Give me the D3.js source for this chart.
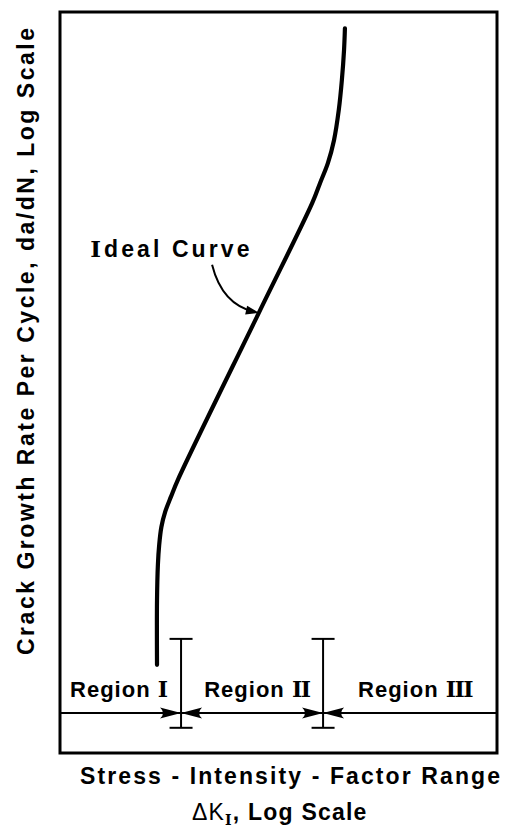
<!DOCTYPE html>
<html>
<head>
<meta charset="utf-8">
<script src="https://cdn.jsdelivr.net/npm/d3@7/dist/d3.min.js"></script>
<style>
  html, body { margin: 0; padding: 0; background: #fff; }
  svg { display: block; }
  text { fill: #000; font-family: "Liberation Sans", Arial, sans-serif; font-weight: bold; }
</style>
</head>
<body>
<svg id="chart" width="505" height="827"></svg>
<script>
// ---- Data (schematic units: log ΔK and log da/dN, 0–100) ----
const curveDK   = [22.2, 22.2, 22.4, 22.7, 23.2, 24.1, 25.4, 27.0, 45.5, 57.7, 59.5, 61.3, 62.7, 63.8, 64.5, 65.0, 65.2];
const curveRate = [11.9, 20.6, 25.4, 28.1, 30.5, 32.6, 34.6, 36.9, 59.4, 74.2, 76.9, 79.6, 82.7, 86.8, 90.8, 94.9, 97.8];
const regionBounds = [27.7, 60.2];
const regionNames = ["Region", "Region", "Region"];
const regionNumerals = ["I", "II", "III"];
const regionLabelX = [2.3, 33.0, 68.2];
const regionLabelY = 7.6;
const barTop = 15.4, barBottom = 3.4, arrowLineY = 5.4;
const annotationText = ["I", "deal Curve"];
const annotationTextPos = [6.9, 67.0];
const annotationStart = [34.8, 65.9];
const annotationCtrl = [37.1, 60.5];
const annotationEnd = [45.5, 59.4];
const yTitle = "Crack Growth Rate Per Cycle, da/dN, Log Scale";
const xTitle1 = "Stress - Intensity - Factor Range";
const xTitle2 = ["ΔK", "I", ", Log Scale"];

const svg = d3.select("#chart");
const x = d3.scaleLinear().domain([0, 100]).range([60, 497]);
const y = d3.scaleLinear().domain([0, 100]).range([753, 12]);

// Frame
svg.append("rect")
  .attr("x", x(0)).attr("y", y(100))
  .attr("width", x(100) - x(0)).attr("height", y(0) - y(100))
  .attr("fill", "none").attr("stroke", "#000").attr("stroke-width", 3);

// Ideal curve
const pts = curveDK.map((d, i) => [d, curveRate[i]]);
svg.append("path")
  .datum(pts)
  .attr("d", d3.line().x(d => x(d[0])).y(d => y(d[1])).curve(d3.curveCatmullRom.alpha(0.5)))
  .attr("fill", "none").attr("stroke", "#000").attr("stroke-width", 4.2)
  .attr("stroke-linecap", "round").attr("stroke-linejoin", "round");

// Horizontal region arrow line
svg.append("line")
  .attr("x1", x(0)).attr("x2", x(100))
  .attr("y1", y(arrowLineY)).attr("y2", y(arrowLineY))
  .attr("stroke", "#000").attr("stroke-width", 2);

// Region boundary bars (I-beams)
regionBounds.forEach(b => {
  const g = svg.append("g").attr("stroke", "#000").attr("stroke-width", 2);
  g.append("line").attr("x1", x(b)).attr("x2", x(b)).attr("y1", y(barTop)).attr("y2", y(barBottom));
  g.append("line").attr("x1", x(b) - 11.5).attr("x2", x(b) + 11.5).attr("y1", y(barTop)).attr("y2", y(barTop));
  g.append("line").attr("x1", x(b) - 11.5).attr("x2", x(b) + 11.5).attr("y1", y(barBottom)).attr("y2", y(barBottom));
  // arrowheads pointing into the boundary from both sides
  const yy = y(arrowLineY);
  const head = "M0,0 L-21,-5.5 Q-15,0 -21,5.5 Z";
  svg.append("path").attr("d", head).attr("transform", `translate(${x(b)},${yy})`).attr("fill", "#000");
  svg.append("path").attr("d", head).attr("transform", `translate(${x(b)},${yy}) scale(-1,1)`).attr("fill", "#000");
});

// Region labels
regionNames.forEach((n, i) => {
  const t = svg.append("text")
    .attr("x", x(regionLabelX[i])).attr("y", y(regionLabelY))
    .attr("font-size", 22).attr("letter-spacing", 1);
  t.append("tspan").text(n + " ");
  t.append("tspan").text(regionNumerals[i])
    .attr("font-family", "DejaVu Serif").attr("letter-spacing", -1.5).attr("font-size", 22);
});

// Annotation "Ideal Curve"
const at = svg.append("text")
  .attr("x", x(annotationTextPos[0])).attr("y", y(annotationTextPos[1]))
  .attr("font-size", 23).attr("letter-spacing", 3.1);
at.append("tspan").text(annotationText[0]).attr("font-family", "DejaVu Serif");
at.append("tspan").text(annotationText[1]);

const p0 = [x(annotationStart[0]), y(annotationStart[1])];
const pc = [x(annotationCtrl[0]), y(annotationCtrl[1])];
const p2 = [x(annotationEnd[0]), y(annotationEnd[1])];
const ang = Math.atan2(p2[1] - pc[1], p2[0] - pc[0]);
const back = 4;
const pe = [p2[0] - back * Math.cos(ang), p2[1] - back * Math.sin(ang)];
svg.append("path")
  .attr("d", `M${p0[0]},${p0[1]} Q${pc[0]},${pc[1]} ${pe[0]},${pe[1]}`)
  .attr("fill", "none").attr("stroke", "#000").attr("stroke-width", 2);
svg.append("path")
  .attr("d", "M0,0 L-13,-4.5 L-13,4.5 Z")
  .attr("transform", `translate(${p2[0]},${p2[1]}) rotate(${ang * 180 / Math.PI})`)
  .attr("fill", "#000");

// Y title
svg.append("text")
  .attr("transform", `translate(34,655) rotate(-90)`)
  .attr("font-size", 23)
  .attr("textLength", 627).attr("lengthAdjust", "spacing")
  .text(yTitle);

// X title
svg.append("text")
  .attr("x", 80).attr("y", 784)
  .attr("font-size", 23)
  .attr("textLength", 420).attr("lengthAdjust", "spacing")
  .text(xTitle1);

const xt2 = svg.append("text")
  .attr("x", 192).attr("y", 820)
  .attr("font-size", 23).attr("letter-spacing", 1.2);
xt2.append("tspan").text(xTitle2[0]).attr("font-weight", "normal");
xt2.append("tspan").text(xTitle2[1]).attr("font-family", "DejaVu Serif").attr("font-size", 14).attr("dy", 5);
xt2.append("tspan").text(xTitle2[2]).attr("dy", -5);
</script>
</body>
</html>
